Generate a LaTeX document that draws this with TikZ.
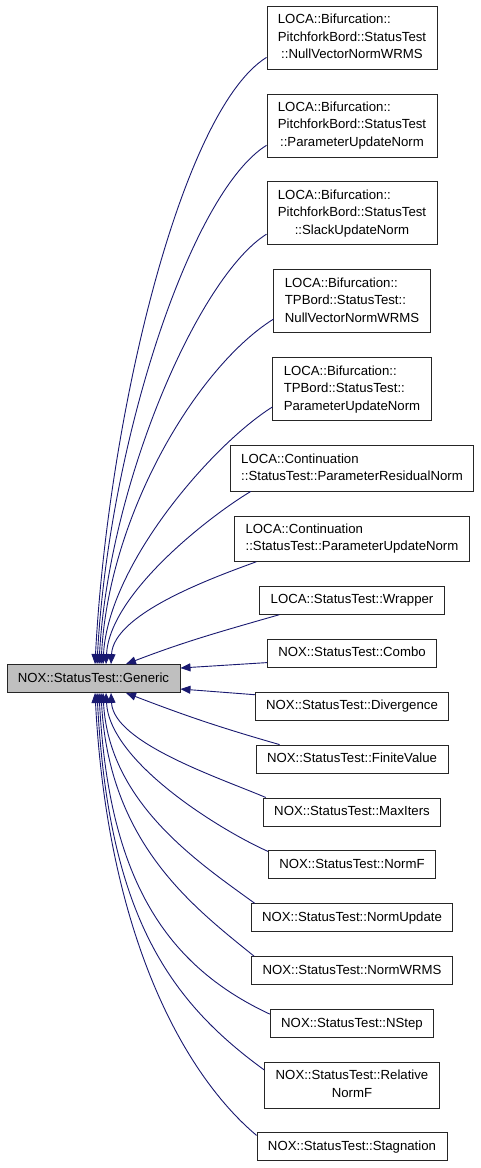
\documentclass[tikz,border=0pt]{standalone}
\usepackage{fontspec}
\setmainfont{Liberation Sans}
\usetikzlibrary{arrows.meta,positioning}
\definecolor{EdgeBlue}{HTML}{191970}
\definecolor{BaseGray}{HTML}{BFBFBF}
\newcommand{\cls}[1]{\begin{tabular}{@{}l@{}}#1\end{tabular}}
\newcommand{\lastln}[1]{\multicolumn{1}{@{}c@{}}{#1}}

\begin{document}
\begin{tikzpicture}[
  x=1pt, y=1pt,
  node distance=24.1pt,
  box/.style={draw=black!85,line width=0.8pt,fill=white,inner xsep=11pt,inner ysep=5.25pt,font=\fontsize{13.2}{17.5}\selectfont},
  base/.style={box,fill=BaseGray},
  inherit/.style={-{Triangle[length=10pt,width=8pt]},line width=0.9pt,color=EdgeBlue}
]
  \useasboundingbox (0,0) rectangle (480,-1168);

  \node[base] (generic) at (93.5,-678.5) {\cls{NOX::StatusTest::Generic}};

  \node[box] (pfNull) at (352,-37.5) {\cls{LOCA::Bifurcation::\\PitchforkBord::StatusTest\\\lastln{::NullVectorNormWRMS}}};
  \node[box,below=of pfNull] (pfParam) {\cls{LOCA::Bifurcation::\\PitchforkBord::StatusTest\\\lastln{::ParameterUpdateNorm}}};
  \node[box,below=of pfParam] (pfSlack) {\cls{LOCA::Bifurcation::\\PitchforkBord::StatusTest\\\lastln{::SlackUpdateNorm}}};
  \node[box,below=of pfSlack] (tpNull) {\cls{LOCA::Bifurcation::\\TPBord::StatusTest::\\\lastln{NullVectorNormWRMS}}};
  \node[box,below=of tpNull] (tpParam) {\cls{LOCA::Bifurcation::\\TPBord::StatusTest::\\\lastln{ParameterUpdateNorm}}};
  \node[box,below=of tpParam] (contResid) {\cls{LOCA::Continuation\\\lastln{::StatusTest::ParameterResidualNorm}}};
  \node[box,below=of contResid] (contParam) {\cls{LOCA::Continuation\\\lastln{::StatusTest::ParameterUpdateNorm}}};
  \node[box,below=of contParam] (wrapper) {\cls{LOCA::StatusTest::Wrapper}};
  \node[box,below=of wrapper] (combo) {\cls{NOX::StatusTest::Combo}};
  \node[box,below=of combo] (divergence) {\cls{NOX::StatusTest::Divergence}};
  \node[box,below=of divergence] (finite) {\cls{NOX::StatusTest::FiniteValue}};
  \node[box,below=of finite] (maxIters) {\cls{NOX::StatusTest::MaxIters}};
  \node[box,below=of maxIters] (normF) {\cls{NOX::StatusTest::NormF}};
  \node[box,below=of normF] (normUpd) {\cls{NOX::StatusTest::NormUpdate}};
  \node[box,below=of normUpd] (normWrms) {\cls{NOX::StatusTest::NormWRMS}};
  \node[box,below=of normWrms] (nStep) {\cls{NOX::StatusTest::NStep}};
  \node[box,below=of nStep] (relNormF) {\cls{NOX::StatusTest::Relative\\\lastln{NormF}}};
  \node[box,below=of relNormF] (stagnation) {\cls{NOX::StatusTest::Stagnation}};

  \draw[inherit] ([yshift=12pt]pfNull.south west) .. controls +(212:100pt) and +(87:250pt) .. ([xshift=1.5pt]generic.north);
  \draw[inherit] ([yshift=12pt]pfParam.south west) .. controls +(212:90pt) and +(87:220pt) .. ([xshift=3.5pt]generic.north);
  \draw[inherit] ([yshift=11pt]pfSlack.south west) .. controls +(212:80pt) and +(87:180pt) .. ([xshift=5.5pt]generic.north);
  \draw[inherit] ([yshift=14pt]tpNull.south west) .. controls +(212:90pt) and +(87:150pt) .. ([xshift=7.5pt]generic.north);
  \draw[inherit] ([yshift=14pt]tpParam.south west) .. controls +(212:70pt) and +(87:100pt) .. ([xshift=9.5pt]generic.north);
  \draw[inherit] ([xshift=21pt]contResid.south west) .. controls +(211:50pt) and +(87:70pt) .. ([xshift=12.5pt]generic.north);
  \draw[inherit] ([xshift=22pt]contParam.south west) .. controls +(200:50pt) and +(87:50pt) .. ([xshift=17.5pt]generic.north);
  \draw[inherit] ([xshift=20pt]wrapper.south west) to[out=196,in=21] ([xshift=32.5pt]generic.north);
  \draw[inherit] ([yshift=5pt]combo.south west) -- ([yshift=10.5pt]generic.east);
  \draw[inherit] ([yshift=-3pt]divergence.north west) -- ([yshift=-10.5pt]generic.east);
  \draw[inherit] ([xshift=24pt]finite.north west) to[out=164,in=-21] ([xshift=32.5pt]generic.south);
  \draw[inherit] ([xshift=3pt]maxIters.north west) .. controls +(157:50pt) and +(-87:50pt) .. ([xshift=17.5pt]generic.south);
  \draw[inherit] ([yshift=-1pt]normF.north west) .. controls +(156:50pt) and +(-87:70pt) .. ([xshift=12.5pt]generic.south);
  \draw[inherit] ([xshift=4pt]normUpd.north west) .. controls +(144:70pt) and +(-87:110pt) .. ([xshift=9.5pt]generic.south);
  \draw[inherit] ([xshift=3pt]normWrms.north west) .. controls +(141:80pt) and +(-87:150pt) .. ([xshift=7.5pt]generic.south);
  \draw[inherit] ([yshift=-5pt]nStep.north west) .. controls +(155:120pt) and +(-87:180pt) .. ([xshift=5.5pt]generic.south);
  \draw[inherit] ([yshift=-8pt]relNormF.north west) .. controls +(144:120pt) and +(-87:220pt) .. ([xshift=3.5pt]generic.south);
  \draw[inherit] ([yshift=-3pt]stagnation.north west) .. controls +(140:90pt) and +(-87:250pt) .. ([xshift=1.5pt]generic.south);
\end{tikzpicture}
\end{document}
